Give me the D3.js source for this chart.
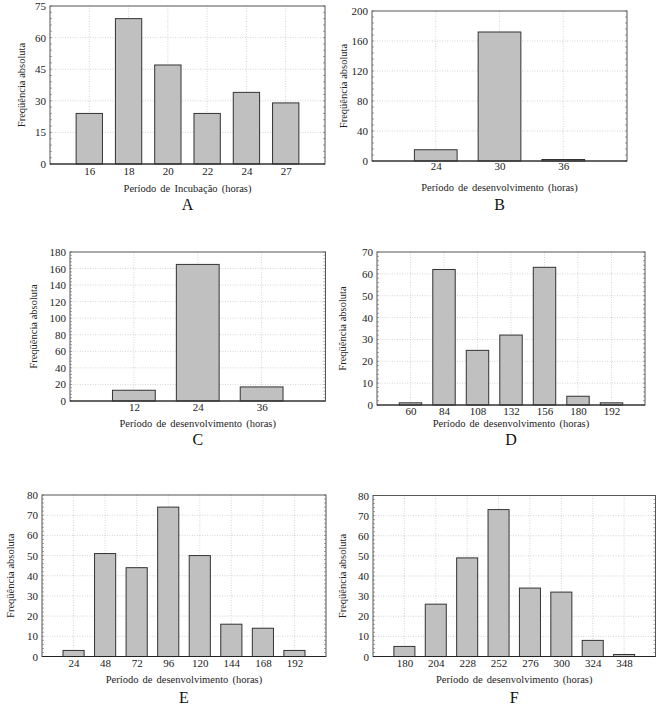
<!DOCTYPE html>
<html><head><meta charset="utf-8">
<script src="https://cdn.jsdelivr.net/npm/d3@7"></script>
<style>body{margin:0;background:#fff}svg{display:block} svg text{font-family:"Liberation Serif","Times New Roman",Times,serif !important;}</style>
</head><body>
<script>
// ---- data ----
const catsA = ["16","18","20","22","24","27"];
const valsA = [24,69,47,24,34,29];
const ticksA = [0,15,30,45,60,75];

const catsB = ["24","30","36"];
const valsB = [15,172,2];
const ticksB = [0,40,80,120,160,200];

const catsC = ["12","24","36"];
const valsC = [13,165,17];
const ticksC = [0,20,40,60,80,100,120,140,160,180];

const catsD = ["60","84","108","132","156","180","192"];
const valsD = [1,62,25,32,63,4,1];
const ticksD = [0,10,20,30,40,50,60,70];

const catsE = ["24","48","72","96","120","144","168","192"];
const valsE = [3,51,44,74,50,16,14,3];
const ticksE = [0,10,20,30,40,50,60,70,80];

const catsF = ["180","204","228","252","276","300","324","348"];
const valsF = [5,26,49,73,34,32,8,1];
const ticksF = [0,10,20,30,40,50,60,70,80];

const yTitle = "Freqüência absoluta";
const xTitleA = "Período de Incubação (horas)";
const xTitleDev = "Período de desenvolvimento (horas)";

// ---- layout ----
const panels = [
  {cats:catsA, vals:valsA, ticks:ticksA, xt:xTitleA, letter:"A", L:50, R:325, T:6, B:164, tickY:174, titleY:192, letterY:210, ylabX:21},
  {cats:catsB, vals:valsB, ticks:ticksB, xt:xTitleDev, letter:"B", L:372, R:627, T:11, B:161, tickY:169, titleY:191, letterY:210, ylabX:343},
  {cats:catsC, vals:valsC, ticks:ticksC, xt:xTitleDev, letter:"C", L:70, R:325.5, T:252, B:401, tickY:410, titleY:427, letterY:445, ylabX:33},
  {cats:catsD, vals:valsD, ticks:ticksD, xt:xTitleDev, letter:"D", L:377, R:645, T:252, B:405, tickY:414, titleY:427, letterY:445, ylabX:342},
  {cats:catsE, vals:valsE, ticks:ticksE, xt:xTitleDev, letter:"E", L:42, R:326, T:495, B:656.5, tickY:666, titleY:683, letterY:703, ylabX:10},
  {cats:catsF, vals:valsF, ticks:ticksF, xt:xTitleDev, letter:"F", L:373, R:655.5, T:495.5, B:656.5, tickY:666, titleY:683, letterY:703, ylabX:342}
];

const FONT = "Liberation Serif, Times New Roman, serif";
const W = 658, H = 715;
const svg = d3.select("body").append("svg").attr("width", W).attr("height", H)
  .attr("font-family", FONT);

panels.forEach(p => {
  const g = svg.append("g");
  const x = d3.scalePoint().domain(p.cats).range([p.L, p.R]).padding(1);
  const yMax = p.ticks[p.ticks.length - 1];
  const y = d3.scaleLinear().domain([0, yMax]).range([p.B, p.T]);
  const step = x.step();
  const bw = step * 0.67;

  // grid
  g.append("g").selectAll("line.h").data(p.ticks.slice(1, -1)).join("line")
    .attr("x1", p.L).attr("x2", p.R).attr("y1", d => y(d)).attr("y2", d => y(d))
    .attr("stroke", "#bbb").attr("stroke-width", 0.6).attr("stroke-dasharray", "1,1.5");
  g.append("g").selectAll("line.v").data(p.cats).join("line")
    .attr("x1", d => x(d)).attr("x2", d => x(d)).attr("y1", p.T).attr("y2", p.B)
    .attr("stroke", "#bbb").attr("stroke-width", 0.6).attr("stroke-dasharray", "1,1.5");

  // bars
  g.append("g").selectAll("rect").data(p.vals).join("rect")
    .attr("x", (d, i) => x(p.cats[i]) - bw / 2)
    .attr("width", bw)
    .attr("y", d => y(d))
    .attr("height", d => p.B - y(d))
    .attr("fill", "#c0c0c0").attr("stroke", "#333").attr("stroke-width", 1);

  // minor ticks on left and right borders
  const minorStep = (p.ticks[1] - p.ticks[0]) / 5;
  const minors = d3.range(0, yMax + 1e-9, minorStep);
  g.append("g").selectAll("line").data(minors).join("line")
    .attr("x1", p.L).attr("x2", p.L + 2).attr("y1", d => y(d)).attr("y2", d => y(d))
    .attr("stroke", "#666").attr("stroke-width", 0.6);
  g.append("g").selectAll("line").data(minors).join("line")
    .attr("x1", p.R).attr("x2", p.R - 2).attr("y1", d => y(d)).attr("y2", d => y(d))
    .attr("stroke", "#666").attr("stroke-width", 0.6);

  // frame
  g.append("rect").attr("x", p.L).attr("y", p.T).attr("width", p.R - p.L).attr("height", p.B - p.T)
    .attr("fill", "none").attr("stroke", "#555").attr("stroke-width", 1);
  g.append("line").attr("x1", p.L).attr("x2", p.R).attr("y1", p.B).attr("y2", p.B)
    .attr("stroke", "#222").attr("stroke-width", 1.2);

  // y axis via d3 axis (labels)
  const ya = d3.axisLeft(y).tickValues(p.ticks).tickSize(0).tickPadding(4);
  const yg = g.append("g").attr("transform", `translate(${p.L},0)`).call(ya)
    .attr("font-family", FONT).attr("font-size", 11);
  yg.select(".domain").remove();
  yg.selectAll("text").attr("fill", "#222");

  // x axis labels
  const xa = d3.axisBottom(x).tickSize(0).tickPadding(0);
  const xg = g.append("g").attr("transform", `translate(0,${p.tickY - 7})`).call(xa)
    .attr("font-family", FONT).attr("font-size", 11);
  xg.select(".domain").remove();
  xg.selectAll("text").attr("fill", "#222").attr("dy", "0.71em");

  const cx = (p.L + p.R) / 2;
  g.append("text").attr("x", cx).attr("y", p.titleY).attr("text-anchor", "middle")
    .attr("font-size", 10.5).attr("fill", "#222").attr("word-spacing", 1.5).text(p.xt);
  g.append("text").attr("x", cx).attr("y", p.letterY).attr("text-anchor", "middle")
    .attr("font-size", 16).attr("fill", "#111").text(p.letter);
  g.append("text").attr("transform", `translate(${p.ylabX},${(p.T + p.B) / 2}) rotate(-90)`)
    .attr("text-anchor", "middle").attr("dy", "0.35em")
    .attr("font-size", 10.5).attr("fill", "#222").text(yTitle);
});
</script>
</body></html>
